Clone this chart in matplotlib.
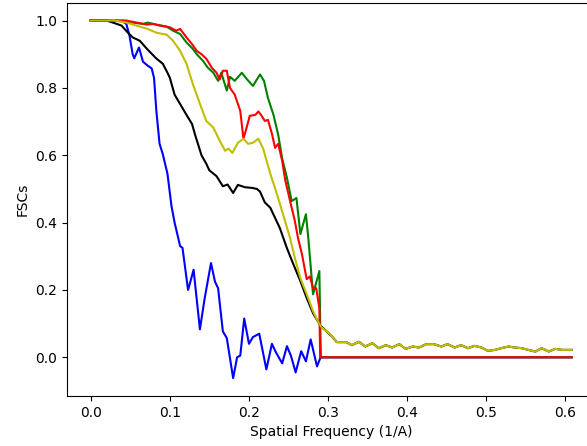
#!/usr/bin/env python3
"""
FSC curves vs spatial frequency, redrawn from a screenshot.
"""

import numpy as np
import matplotlib
matplotlib.use('Agg')
import matplotlib.pyplot as plt


# (spatial frequency, FSC)
blue_pts = [
    (0.0, 1.0), (0.02, 1.0), (0.04, 0.998), (0.045, 0.99), (0.049, 0.955),
    (0.053, 0.90), (0.055, 0.888), (0.061, 0.92), (0.066, 0.878), (0.072, 0.866),
    (0.077, 0.858), (0.080, 0.83), (0.083, 0.73), (0.087, 0.634), (0.091, 0.604),
    (0.097, 0.545), (0.102, 0.45), (0.106, 0.40), (0.113, 0.33), (0.116, 0.325),
    (0.123, 0.20), (0.126, 0.225), (0.130, 0.26), (0.138, 0.083), (0.144, 0.175),
    (0.152, 0.28), (0.157, 0.225), (0.161, 0.205), (0.167, 0.077), (0.172, 0.057),
    (0.180, -0.062), (0.185, 0.0), (0.189, 0.005), (0.194, 0.115), (0.200, 0.04),
    (0.205, 0.06), (0.213, 0.07), (0.222, -0.036), (0.229, 0.04), (0.234, 0.015),
    (0.242, -0.018), (0.248, 0.033), (0.253, 0.005), (0.259, -0.045), (0.266, 0.018),
    (0.272, -0.012), (0.278, 0.053), (0.286, -0.027), (0.290, -0.003),
    (0.291, 0.0), (0.608, 0.0),
]

black_head = [
    (0.0, 1.0), (0.02, 1.0), (0.028, 0.994), (0.039, 0.985), (0.047, 0.964),
    (0.053, 0.95), (0.062, 0.94), (0.071, 0.916), (0.083, 0.887), (0.091, 0.872),
    (0.097, 0.845), (0.100, 0.83), (0.106, 0.78), (0.116, 0.74), (0.121, 0.72),
    (0.128, 0.693), (0.132, 0.66), (0.140, 0.60), (0.146, 0.575), (0.150, 0.555),
    (0.159, 0.538), (0.167, 0.508), (0.173, 0.513), (0.180, 0.488), (0.186, 0.512),
    (0.195, 0.505), (0.204, 0.503), (0.210, 0.50), (0.214, 0.492), (0.220, 0.46),
    (0.227, 0.444), (0.239, 0.384), (0.248, 0.324), (0.256, 0.277), (0.265, 0.226),
    (0.273, 0.176), (0.281, 0.131), (0.290, 0.095), (0.298, 0.077), (0.305, 0.062),
    (0.311, 0.045),
]

yellow_head = [
    (0.0, 1.0), (0.03, 1.0), (0.045, 0.994), (0.062, 0.982), (0.071, 0.976),
    (0.083, 0.964), (0.096, 0.958), (0.104, 0.94), (0.113, 0.91), (0.121, 0.872),
    (0.129, 0.812), (0.138, 0.753), (0.146, 0.702), (0.155, 0.682), (0.163, 0.643),
    (0.170, 0.613), (0.174, 0.62), (0.179, 0.607), (0.186, 0.637), (0.193, 0.649),
    (0.199, 0.634), (0.205, 0.637), (0.212, 0.649), (0.218, 0.619), (0.227, 0.545),
    (0.235, 0.487), (0.243, 0.425), (0.252, 0.354), (0.258, 0.295), (0.265, 0.235),
    (0.273, 0.187), (0.281, 0.137), (0.287, 0.107), (0.292, 0.088), (0.303, 0.068),
    (0.311, 0.045),
]

# black and yellow share the noisy tail past 0.31
tail_pts = [
    (0.323, 0.045), (0.330, 0.036), (0.339, 0.046), (0.347, 0.032), (0.356, 0.042),
    (0.364, 0.027), (0.373, 0.036), (0.381, 0.029), (0.390, 0.039), (0.398, 0.025),
    (0.407, 0.032), (0.415, 0.029), (0.424, 0.039), (0.434, 0.039), (0.443, 0.032),
    (0.451, 0.039), (0.460, 0.029), (0.468, 0.036), (0.477, 0.027), (0.485, 0.034),
    (0.494, 0.029), (0.502, 0.019), (0.511, 0.022), (0.519, 0.027), (0.528, 0.032),
    (0.536, 0.029), (0.545, 0.027), (0.553, 0.022), (0.562, 0.017), (0.570, 0.027),
    (0.579, 0.017), (0.587, 0.025), (0.596, 0.022), (0.608, 0.022),
]

green_pts = [
    (0.0, 1.0), (0.04, 1.0), (0.053, 0.994), (0.066, 0.99), (0.072, 0.994),
    (0.083, 0.988), (0.096, 0.982), (0.104, 0.97), (0.113, 0.96), (0.121, 0.935),
    (0.129, 0.916), (0.134, 0.90), (0.142, 0.88), (0.148, 0.86), (0.155, 0.845),
    (0.161, 0.821), (0.165, 0.845), (0.172, 0.792), (0.176, 0.833), (0.182, 0.821),
    (0.191, 0.845), (0.197, 0.827), (0.205, 0.806), (0.214, 0.84), (0.219, 0.821),
    (0.224, 0.77), (0.231, 0.72), (0.237, 0.66), (0.242, 0.59), (0.248, 0.533),
    (0.254, 0.464), (0.260, 0.473), (0.265, 0.366), (0.272, 0.425), (0.275, 0.354),
    (0.281, 0.187), (0.289, 0.256), (0.290, 0.107), (0.291, 0.0), (0.608, 0.0),
]

red_pts = [
    (0.0, 1.0), (0.045, 1.0), (0.058, 0.994), (0.071, 0.988), (0.079, 0.99),
    (0.087, 0.985), (0.100, 0.98), (0.108, 0.97), (0.113, 0.975), (0.121, 0.95),
    (0.128, 0.93), (0.134, 0.91), (0.140, 0.90), (0.146, 0.887), (0.153, 0.86),
    (0.159, 0.845), (0.163, 0.825), (0.167, 0.851), (0.172, 0.851), (0.176, 0.80),
    (0.182, 0.78), (0.189, 0.732), (0.193, 0.649), (0.197, 0.682), (0.201, 0.717),
    (0.208, 0.72), (0.212, 0.73), (0.216, 0.717), (0.220, 0.702), (0.224, 0.705),
    (0.229, 0.664), (0.233, 0.622), (0.237, 0.634), (0.242, 0.583), (0.246, 0.524),
    (0.252, 0.464), (0.258, 0.405), (0.262, 0.354), (0.267, 0.306), (0.271, 0.256),
    (0.273, 0.232), (0.277, 0.24), (0.281, 0.205), (0.285, 0.205), (0.289, 0.146),
    (0.290, 0.0), (0.608, 0.0),
]


def xy(points):
    arr = np.array(points)
    return arr[:, 0], arr[:, 1]


fig, ax = plt.subplots(figsize=(5.87, 4.46), dpi=100)
# the original screenshot clips the right edge of the axes
fig.subplots_adjust(left=0.1136, right=1.015, top=0.994, bottom=0.112)

ax.plot(*xy(blue_pts), 'b-')
ax.plot(*xy(green_pts), 'g-')
ax.plot(*xy(red_pts), 'r-')
ax.plot(*xy(black_head + tail_pts), 'k-')
ax.plot(*xy(yellow_head + tail_pts), 'y-')

ax.set_xlabel('Spatial Frequency (1/A)')
ax.set_ylabel('FSCs')

fig.savefig('out.png', dpi=100)
